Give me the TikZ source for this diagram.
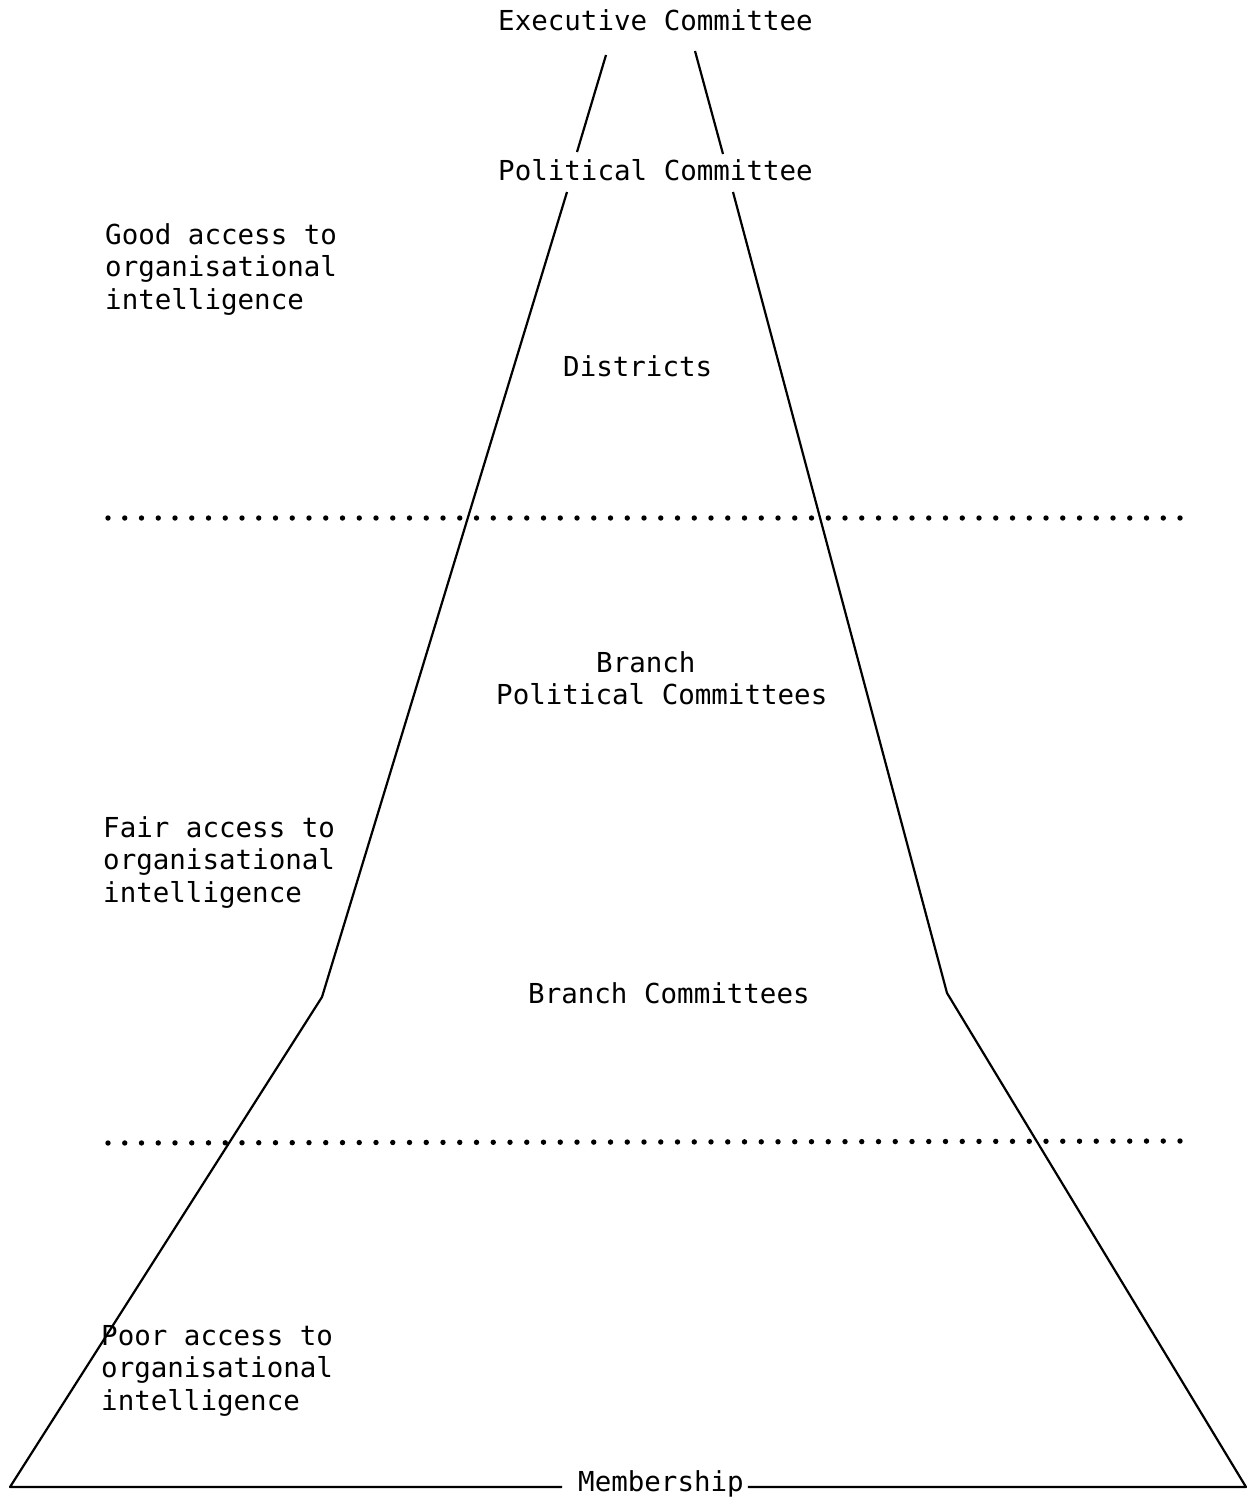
\documentclass[tikz,border=0pt]{standalone}
\usepackage{fontspec}
\setmonofont{DejaVu Sans Mono}
\begin{document}
\begin{tikzpicture}[x=1pt,y=-1pt,
  lbl/.style={font=\ttfamily\fontsize{27.5}{32.5}\selectfont, inner sep=0pt, anchor=base west},
  side/.style={lbl, align=left},
  edge/.style={line width=2.2pt, line join=round},
  dotline/.style={line width=5.4pt, line cap=round, dash pattern=on 0pt off 16.75pt}]
\useasboundingbox (0,0) rectangle (1252,1497);
% labels
\node[lbl] (exec) at (498,30) {Executive Committee};
\node[lbl] (pol)  at (498,180) {Political Committee};
\node[lbl] (dist) at (563,376) {Districts};
\node[lbl] (br1)  at (596,672) {Branch};
\node[lbl] (br2)  at (496,704) {Political Committees};
\node[lbl] (bc)   at (528,1003) {Branch Committees};
\node[lbl] (memb) at (578,1491) {Membership};
\node[side] (good) at (105,309) {Good access to\\organisational\\intelligence};
\node[side] (fair) at (103,902) {Fair access to\\organisational\\intelligence};
\node[side] (poor) at (101,1410) {Poor access to\\organisational\\intelligence};
% pyramid vertices
\coordinate (lt1) at (606,55);  \coordinate (lt2) at (577,152);
\coordinate (rt1) at (695,51);  \coordinate (rt2) at (723,154);
\coordinate (lm1) at (567,192); \coordinate (lk)  at (322,997);
\coordinate (rm1) at (733,192); \coordinate (rk)  at (947,993);
\coordinate (bl)  at (10,1487); \coordinate (br)  at (1246,1487);
\draw[edge] (lt1) -- (lt2);
\draw[edge] (rt1) -- (rt2);
\draw[edge] (lm1) -- (lk) -- (bl) -- ([xshift=-16pt]memb.west |- bl);
\draw[edge] (rm1) -- (rk) -- (br) -- ([xshift=4pt]memb.east |- br);
% dotted separators
\coordinate (d1a) at (108,518); \coordinate (d1b) at (1190,518);
\coordinate (d2a) at (108,1143); \coordinate (d2b) at (1186,1141);
\draw[dotline] (d1a) -- (d1b);
\draw[dotline] (d2a) -- (d2b);
\end{tikzpicture}
\end{document}
